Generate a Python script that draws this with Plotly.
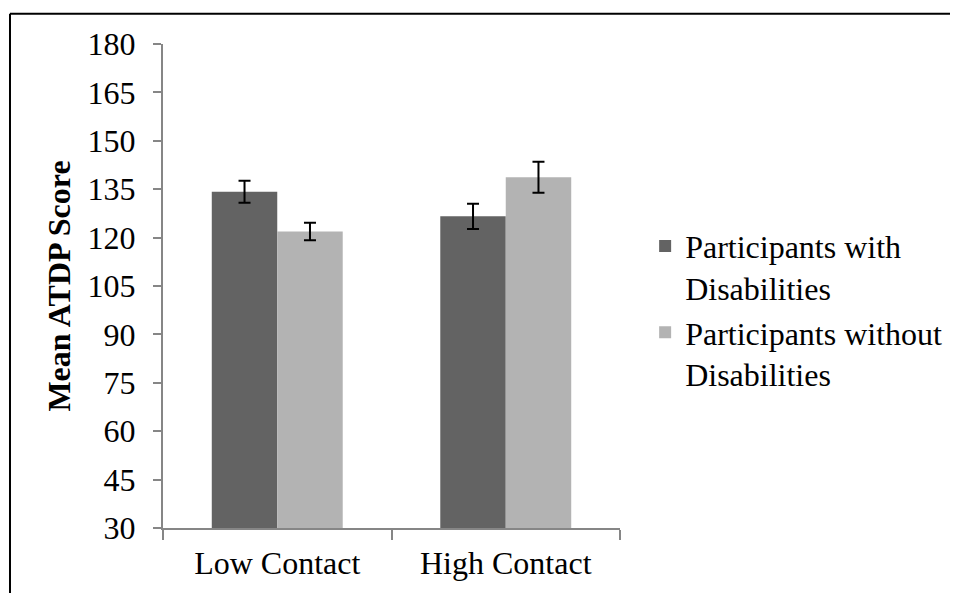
import plotly.graph_objects as go

categories = ["Low Contact", "High Contact"]
with_dis = [134.2, 126.6]
with_dis_err = [3.4, 3.9]
without_dis = [121.9, 138.7]
without_dis_err = [2.7, 4.8]
y_ticks = [30, 45, 60, 75, 90, 105, 120, 135, 150, 165, 180]

FONT = "Liberation Serif, Times New Roman, serif"
AXIS_COLOR = "#868686"

fig = go.Figure()
fig.add_trace(go.Bar(
    x=categories, y=with_dis, name="Participants with<br>Disabilities",
    marker=dict(color="#636363", line=dict(width=0)),
    error_y=dict(type="data", array=with_dis_err, visible=True,
                 color="black", thickness=2, width=6),
))
fig.add_trace(go.Bar(
    x=categories, y=without_dis, name="Participants without<br>Disabilities",
    marker=dict(color="#b3b3b3", line=dict(width=0)),
    error_y=dict(type="data", array=without_dis_err, visible=True,
                 color="black", thickness=2, width=6),
))

fig.update_layout(
    width=958, height=593,
    margin=dict(l=155, r=346, t=36, b=73, autoexpand=False),
    paper_bgcolor="white", plot_bgcolor="white",
    font=dict(family=FONT, size=32, color="black"),
    barmode="group", bargap=0.427, bargroupgap=0,
    showlegend=True,
    legend=dict(x=1.055, xanchor="left", y=0.45, yanchor="middle",
                valign="top", font=dict(family=FONT, size=32, color="black"),
                bgcolor="rgba(0,0,0,0)", borderwidth=0, tracegroupgap=0),
    xaxis=dict(
        type="category", range=[-0.5, 1.5], showline=True, linecolor=AXIS_COLOR,
        linewidth=2, ticks="outside", tickson="boundaries", ticklen=10,
        tickwidth=2, tickcolor=AXIS_COLOR, showgrid=False, zeroline=False,
        ticklabelstandoff=6,
    ),
    yaxis=dict(
        range=[30, 180], tickvals=y_ticks, showline=True, linecolor=AXIS_COLOR,
        linewidth=2, ticks="outside", ticklen=8, tickwidth=2, tickcolor=AXIS_COLOR,
        showgrid=False, zeroline=False, ticklabelstandoff=11,
        title=dict(text="<b>Mean ATDP Score</b>", standoff=7,
                   font=dict(family=FONT, size=32, color="black")),
    ),
)

# outer chart border (top and left edges visible in the crop)
fig.add_shape(type="line", xref="paper", yref="paper",
              x0=-0.3348, x1=2.0, y0=1.0624, y1=1.0624,
              line=dict(color="black", width=2))
fig.add_shape(type="line", xref="paper", yref="paper",
              x0=-0.3348, x1=-0.3348, y0=1.0624, y1=-0.3,
              line=dict(color="black", width=2))

fig.write_html("out.html")
